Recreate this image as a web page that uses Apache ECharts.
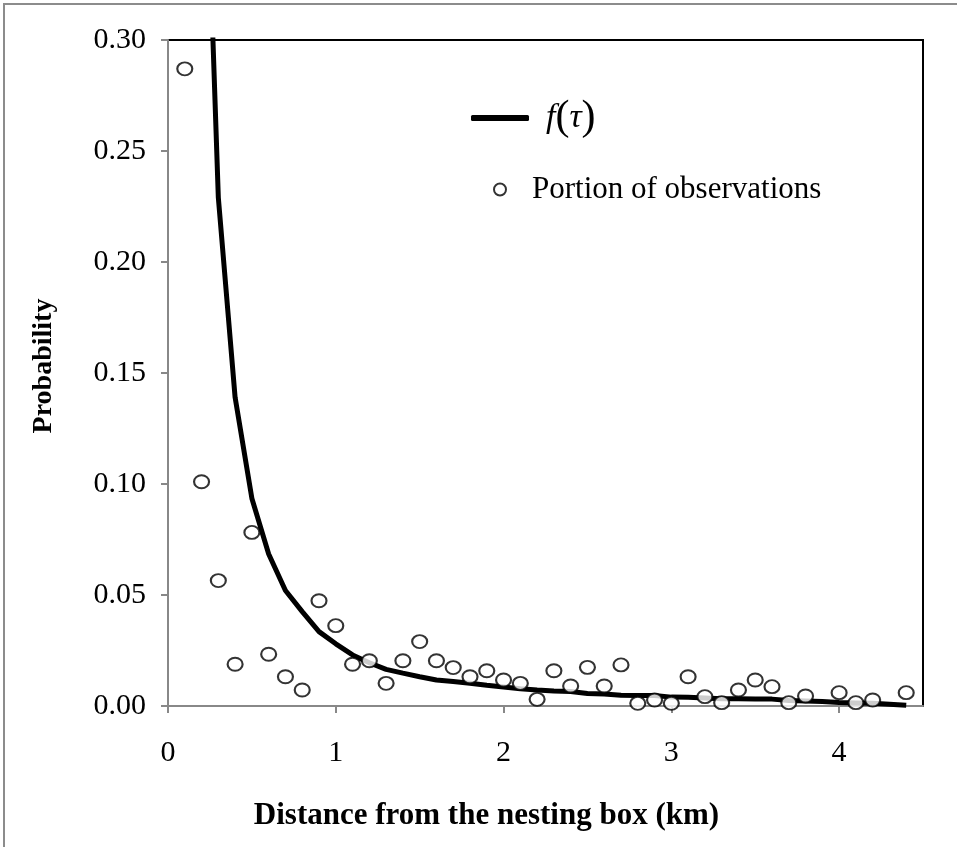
<!DOCTYPE html>
<html>
<head>
<meta charset="utf-8">
<script src="https://cdn.jsdelivr.net/npm/echarts@6/dist/echarts.min.js"></script>
<style>
html,body{margin:0;padding:0;background:#fff;}
#chart{width:957px;height:847px;}
</style>
</head>
<body>
<div id="chart"></div>
<script>
// Curve f(tau): distance (km) and probability
const curveX = [0.2,0.3,0.4,0.5,0.6,0.7,0.8,0.9,1.0,1.1,1.2,1.3,1.4,1.5,1.6,1.7,1.8,1.9,2.0,2.1,2.2,2.3,2.4,2.5,2.6,2.7,2.8,2.9,3.0,3.1,3.2,3.3,3.4,3.5,3.6,3.7,3.8,3.9,4.0,4.1,4.2,4.3,4.4];
const curveY = [0.45,0.229,0.139,0.0935,0.0685,0.052,0.0425,0.0335,0.028,0.023,0.0195,0.0165,0.0148,0.0132,0.0117,0.011,0.0102,0.0093,0.0086,0.0078,0.0072,0.0068,0.0065,0.0056,0.0054,0.0048,0.0047,0.0047,0.004,0.0039,0.0036,0.0033,0.0033,0.0032,0.0031,0.0025,0.0023,0.002,0.0016,0.0014,0.0012,0.0008,0.0003];
// Portion of observations
const obsX = [0.1,0.2,0.3,0.4,0.5,0.6,0.7,0.8,0.9,1.0,1.1,1.2,1.3,1.4,1.5,1.6,1.7,1.8,1.9,2.0,2.1,2.2,2.3,2.4,2.5,2.6,2.7,2.8,2.9,3.0,3.1,3.2,3.3,3.4,3.5,3.6,3.7,3.8,4.0,4.1,4.2,4.4];
const obsY = [0.287,0.101,0.0565,0.0188,0.0782,0.0233,0.0132,0.0072,0.0474,0.0362,0.0188,0.0204,0.0102,0.0204,0.029,0.0204,0.0173,0.0132,0.0159,0.0117,0.0102,0.003,0.0159,0.009,0.0174,0.009,0.0185,0.0012,0.0027,0.0012,0.0132,0.0042,0.0015,0.0072,0.0117,0.0087,0.0015,0.0045,0.006,0.0015,0.0027,0.006];
const xTicks = [0,1,2,3,4];
const yTicks = [0,0.05,0.10,0.15,0.20,0.25,0.30];

const FONT = "'Liberation Serif','Times New Roman',serif";
const chart = echarts.init(document.getElementById('chart'), null, {renderer:'canvas'});
chart.setOption({
  animation:false,
  backgroundColor:'#fff',
  textStyle:{fontFamily:FONT},
  graphic:[{type:'rect',shape:{x:4,y:4,width:1100,height:1100},style:{fill:'none',stroke:'#8c8c8c',lineWidth:2},silent:true}],
  grid:{left:168,top:40,right:34,bottom:141,show:true,borderColor:'#000',borderWidth:2,backgroundColor:'transparent'},
  legend:[
    {data:['f(τ)'],left:466,top:92,itemWidth:58,itemHeight:6,icon:'roundRect',
     textStyle:{fontFamily:FONT,fontSize:32,color:'#000',padding:[0,0,0,12],
       rich:{i:{fontStyle:'italic',fontSize:34,fontFamily:FONT,color:'#000'},p:{fontSize:42,fontFamily:FONT,color:'#000'}}},
     formatter:function(){return '{i|f}{p|(}{i|τ}{p|)}';}},
    {data:['Portion of observations'],left:488,top:169,itemWidth:14,itemHeight:12,
     textStyle:{fontFamily:FONT,fontSize:31,color:'#000',padding:[0,0,0,20]}}
  ],
  xAxis:{type:'value',min:0,max:4.5,interval:1,
    name:'Distance from the nesting box (km)',nameLocation:'middle',nameGap:94,
    nameTextStyle:{fontFamily:FONT,fontSize:31,fontWeight:'bold',color:'#000',padding:[0,118,0,0]},
    axisLine:{lineStyle:{color:'#888',width:2}},
    axisTick:{show:true,inside:false,length:7,lineStyle:{color:'#888',width:2}},
    axisLabel:{fontFamily:FONT,fontSize:30,color:'#000',margin:32,showMaxLabel:false,
      formatter:function(v){return xTicks.indexOf(v)>=0?String(v):'';}},
    splitLine:{show:false}},
  yAxis:{type:'value',min:0,max:0.30,interval:0.05,
    name:'Probability',nameLocation:'middle',nameGap:110,
    nameTextStyle:{fontFamily:FONT,fontSize:28,fontWeight:'bold',color:'#000',padding:[0,0,0,14]},
    axisLine:{show:true,lineStyle:{color:'#888',width:2}},
    axisTick:{show:true,inside:false,length:7,lineStyle:{color:'#888',width:2}},
    axisLabel:{fontFamily:FONT,fontSize:30,color:'#000',margin:22,
      formatter:function(v){return v.toFixed(2);}},
    splitLine:{show:false}},
  series:[
    {name:'f(τ)',type:'line',data:curveX.map((x,i)=>[x,curveY[i]]),showSymbol:false,symbol:'none',
     lineStyle:{color:'#000',width:5},itemStyle:{color:'#000'},clip:true,z:2},
    {name:'Portion of observations',type:'scatter',data:obsX.map((x,i)=>[x,obsY[i]]),
     symbol:'circle',symbolSize:[15,13],clip:false,
     itemStyle:{color:'#fff',borderColor:'#000',borderWidth:2},z:3}
  ]
});
</script>
</body>
</html>
